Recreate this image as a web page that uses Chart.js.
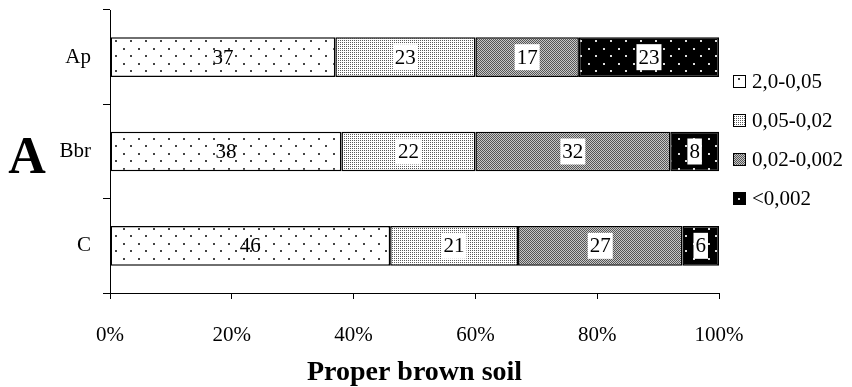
<!DOCTYPE html>
<html>
<head>
<meta charset="utf-8">
<script src="https://cdn.jsdelivr.net/npm/chart.js@4.4.1/dist/chart.umd.min.js"></script>
<style>
  html, body { margin: 0; padding: 0; background: #fff; }
  #wrap { width: 852px; height: 387px; position: relative; }
</style>
</head>
<body>
<div id="wrap"><canvas id="grafico" width="852" height="387"></canvas></div>
<script>
// Dados
const horizontes = ['Ap', 'Bbr', 'C'];
const fracoes = ['2,0-0,05', '0,05-0,02', '0,02-0,002', '<0,002'];
const areia = [37, 38, 46];
const silteGrosso = [23, 22, 21];
const silteFino = [17, 32, 27];
const argila = [23, 8, 6];
const ticksX = [0, 20, 40, 60, 80, 100];
const tituloX = 'Proper brown soil';
const letraPainel = 'A';

const FONTE = "'Liberation Serif', 'Times New Roman', serif";

const canvas = document.getElementById('grafico');
const ctx = canvas.getContext('2d');

function criarPadrao(w, h, desenhar) {
    const c = document.createElement('canvas');
    c.width = w; c.height = h;
    const g = c.getContext('2d');
    desenhar(g);
    return ctx.createPattern(c, 'repeat');
}

// pontos esparsos pretos sobre branco
const padraoAreia = criarPadrao(15, 15, g => {
    g.fillStyle = '#fff'; g.fillRect(0, 0, 15, 15);
    g.fillStyle = '#444';
    g.fillRect(3, 3, 2, 2);
    g.fillRect(10, 10, 2, 2);
});
// grade de pontos finos (claro)
const padraoSilteG = criarPadrao(2, 2, g => {
    g.fillStyle = '#fff'; g.fillRect(0, 0, 2, 2);
    g.fillStyle = '#5a5a5a';
    g.fillRect(0, 0, 1, 1);
});
// xadrez cinza
const padraoSilteF = criarPadrao(2, 2, g => {
    g.fillStyle = '#c8c8c8'; g.fillRect(0, 0, 2, 2);
    g.fillStyle = '#555';
    g.fillRect(0, 0, 1, 1);
    g.fillRect(1, 1, 1, 1);
});
// preto com pontos brancos
const padraoArgila = criarPadrao(15, 15, g => {
    g.fillStyle = '#000'; g.fillRect(0, 0, 15, 15);
    g.fillStyle = '#ddd';
    g.fillRect(3, 3, 2, 2);
    g.fillRect(10, 10, 2, 2);
});

const padroes = [padraoAreia, padraoSilteG, padraoSilteF, padraoArgila];
const valores = [areia, silteGrosso, silteFino, argila];

// rótulos dos valores com caixa branca
const rotulosPlugin = {
    id: 'rotulos',
    afterDatasetsDraw(chart) {
        const c = chart.ctx;
        c.save();
        c.font = '21px ' + FONTE;
        c.textAlign = 'center';
        c.textBaseline = 'middle';
        chart.data.datasets.forEach((ds, i) => {
            const meta = chart.getDatasetMeta(i);
            meta.data.forEach((el, j) => {
                const p = el.getCenterPoint();
                const txt = String(ds.data[j]);
                const w = c.measureText(txt).width + 4;
                if (i > 0) {
                    c.fillStyle = '#fff';
                    c.fillRect(p.x - w / 2, p.y - 13, w, 26);
                }
                c.fillStyle = '#000';
                c.fillText(txt, p.x, p.y + 1);
            });
        });
        c.restore();
    }
};

// legenda e letra do painel
const legendaPlugin = {
    id: 'legendaManual',
    afterDraw(chart) {
        const c = chart.ctx;
        c.save();
        const ys = [81, 120, 159, 198];
        c.font = '21px ' + FONTE;
        c.textBaseline = 'middle';
        c.textAlign = 'left';
        fracoes.forEach((f, i) => {
            c.fillStyle = padroes[i];
            c.fillRect(733, ys[i] - 6, 13, 13);
            c.strokeStyle = '#000';
            c.lineWidth = 1;
            c.strokeRect(733.5, ys[i] - 5.5, 12, 12);
            c.fillStyle = '#000';
            c.fillText(f, 752, ys[i] + 1);
        });
        c.font = 'bold 52px ' + FONTE;
        c.textAlign = 'center';
        c.fillText(letraPainel, 27, 160);
        c.restore();
    }
};

new Chart(ctx, {
    type: 'bar',
    data: {
        labels: horizontes,
        datasets: fracoes.map((f, i) => ({
            label: f,
            data: valores[i],
            backgroundColor: padroes[i],
            borderColor: '#000',
            borderWidth: 1.5,
            borderSkipped: false,
            barPercentage: 0.42,
            categoryPercentage: 1
        }))
    },
    options: {
        indexAxis: 'y',
        responsive: false,
        animation: false,
        devicePixelRatio: 1,
        layout: { padding: { left: 0, right: 133, top: 10, bottom: 0 } },
        plugins: {
            legend: { display: false },
            tooltip: { enabled: false }
        },
        scales: {
            x: {
                stacked: true,
                min: 0,
                max: 100,
                afterBuildTicks: scale => { scale.ticks = ticksX.map(v => ({ value: v })); },
                afterFit: scale => { scale.height = 94; },
                ticks: {
                    callback: v => v + '%',
                    color: '#000',
                    font: { family: FONTE, size: 21 },
                    padding: 24,
                    maxRotation: 0,
                    autoSkip: false
                },
                grid: { drawOnChartArea: false, tickLength: 6, color: '#000' },
                border: { color: '#000', width: 1 },
                title: {
                    display: true,
                    text: tituloX,
                    color: '#000',
                    font: { family: FONTE, size: 28, weight: 'bold', lineHeight: 1 },
                    padding: { top: 0, bottom: 0 }
                }
            },
            y: {
                stacked: true,
                afterFit: scale => {
                    scale.width = 110;
                    scale.paddingTop = 0;
                    scale.paddingBottom = 0;
                },
                ticks: {
                    color: '#000',
                    font: { family: FONTE, size: 21 },
                    padding: 12
                },
                grid: { offset: true, drawOnChartArea: false, tickLength: 7, color: '#000' },
                border: { color: '#000', width: 1 }
            }
        }
    },
    plugins: [rotulosPlugin, legendaPlugin]
});
</script>
</body>
</html>
